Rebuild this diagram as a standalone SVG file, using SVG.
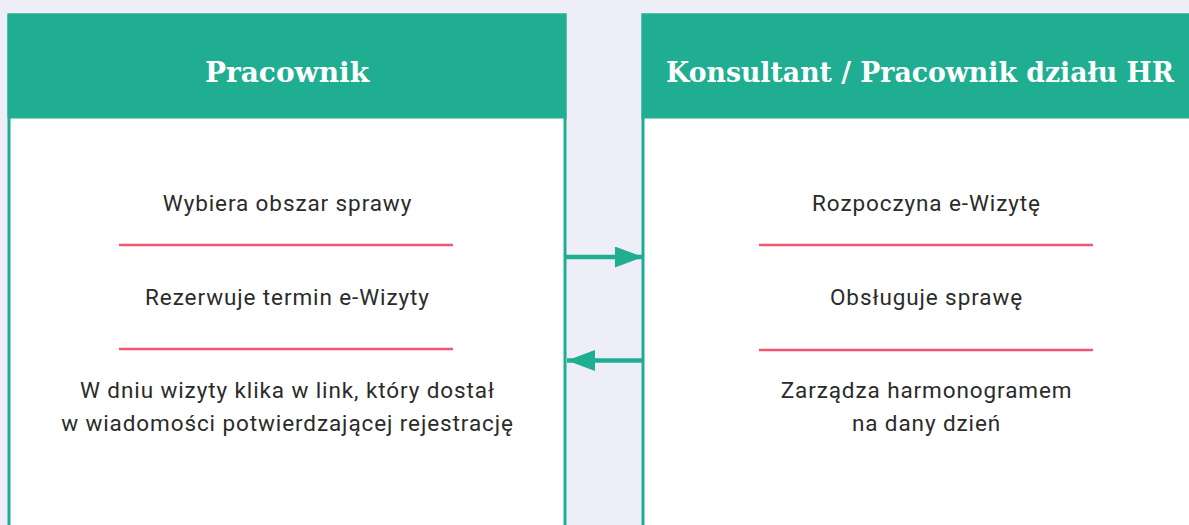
<svg xmlns="http://www.w3.org/2000/svg" width="1189" height="525" viewBox="0 0 1189 525">
  <defs>
    <style>
      .box { fill: #ffffff; stroke: #1fae91; stroke-width: 3; }
      .head { fill: #1fae91; }
      .title { font-family: "DejaVu Serif", "Liberation Serif", serif; font-weight: bold; font-size: 28px; fill: #ffffff; text-anchor: middle; }
      .item { font-family: Roboto, "Liberation Sans", sans-serif; font-size: 22.5px; letter-spacing: 0.9px; fill: #2b2b2b; text-anchor: middle; }
      .sep { stroke: #f0566f; stroke-width: 2.5; }
      .conn { stroke: #1fae91; stroke-width: 4.5; fill: none; }
    </style>
    <marker id="ah" viewBox="0 0 28 21" refX="28" refY="10.5" markerWidth="28" markerHeight="21" markerUnits="userSpaceOnUse" orient="auto">
      <path d="M0,0 L28,10.5 L0,21 Z" fill="#1fae91"/>
    </marker>
  </defs>
  <rect width="1189" height="525" fill="#eeeef8"/>

  <g id="pracownik">
    <rect class="box" x="9" y="15" width="556" height="530"/>
    <rect class="head" x="7.5" y="13.5" width="559" height="105"/>
    <text class="title" x="287" y="82">Pracownik</text>
    <text class="item" x="287.5" y="211">Wybiera obszar sprawy</text>
    <line class="sep" x1="119" y1="245" x2="453" y2="245"/>
    <text class="item" x="287.5" y="305">Rezerwuje termin e-Wizyty</text>
    <line class="sep" x1="119" y1="349" x2="453" y2="349"/>
    <text class="item" x="287.5" y="398">W dniu wizyty klika w link, który dostał</text>
    <text class="item" x="287.5" y="431">w wiadomości potwierdzającej rejestrację</text>
  </g>

  <g id="konsultant">
    <rect class="box" x="643" y="15" width="560" height="530"/>
    <rect class="head" x="641.5" y="13.5" width="560" height="105"/>
    <text class="title" x="920" y="82" textLength="508" lengthAdjust="spacingAndGlyphs">Konsultant / Pracownik działu HR</text>
    <text class="item" x="926.5" y="211">Rozpoczyna e-Wizytę</text>
    <line class="sep" x1="759" y1="245" x2="1093" y2="245"/>
    <text class="item" x="926.5" y="305">Obsługuje sprawę</text>
    <line class="sep" x1="759" y1="350" x2="1093" y2="350"/>
    <text class="item" x="926.5" y="398">Zarządza harmonogramem</text>
    <text class="item" x="926.5" y="431">na dany dzień</text>
  </g>

  <g id="connectors">
    <line class="conn" x1="566" y1="257" x2="643" y2="257" marker-end="url(#ah)"/>
    <line class="conn" x1="643" y1="360.5" x2="567" y2="360.5" marker-end="url(#ah)"/>
  </g>
</svg>
